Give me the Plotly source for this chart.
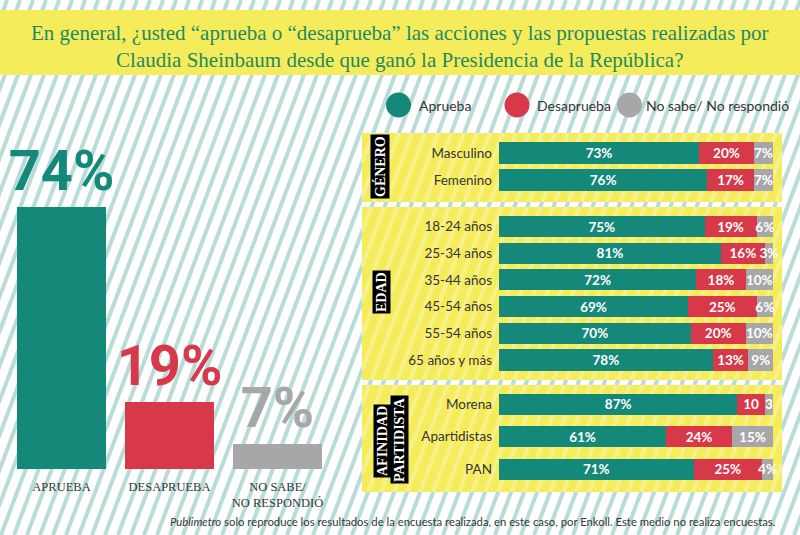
import plotly.graph_objects as go

# ---------------- data ----------------
overall_cats = ["APRUEBA", "DESAPRUEBA", "NO SABE/<br>NO RESPONDIÓ"]
overall_vals = [74, 19, 7]

series_names = ["Aprueba", "Desaprueba", "No sabe/ No respondió"]

genero_cats = ["Masculino", "Femenino"]
genero_aprueba = [73, 76]
genero_desaprueba = [20, 17]
genero_nosabe = [7, 7]

edad_cats = ["18-24 años", "25-34 años", "35-44 años", "45-54 años", "55-54 años", "65 años y más"]
edad_aprueba = [75, 81, 72, 69, 70, 78]
edad_desaprueba = [19, 16, 18, 25, 20, 13]
edad_nosabe = [6, 3, 10, 6, 10, 9]

partido_cats = ["Morena", "Apartidistas", "PAN"]
partido_aprueba = [87, 61, 71]
partido_desaprueba = [10, 24, 25]
partido_nosabe = [3, 15, 4]
partido_desaprueba_text = ["10", "24%", "25%"]
partido_nosabe_text = ["3", "15%", "4%"]

title_lines = ["En general, ¿usted “aprueba o “desaprueba” las acciones y las propuestas realizadas por",
               "Claudia Sheinbaum desde que ganó la Presidencia de la República?"]

# ---------------- style ----------------
W, H = 800, 535
TEAL = "#14897a"
RED = "#d7384a"
GRAY = "#a7a7a9"
YELLOW = "#f5ec5c"
STRIPE = "#b9dcd9"
TXT = "#363636"
GREEN_T = "#1f8a62"
colors = [TEAL, RED, GRAY]

BIG_FONT = "Roboto, sans-serif"
SERIF = "Liberation Serif, DejaVu Serif, serif"
SANS = "Lato, Open Sans, sans-serif"


def fx(px):
    return px / W


def fy(py):
    return 1 - py / H


# ---------------- background stripes & boxes ----------------
shapes = []
SLOPE = 2.66
DX = H / SLOPE
STEP = 13
starts = list(range(-220, 812, STEP))
for x0 in starts:
    shapes.append(dict(type="line", xref="paper", yref="paper",
                       x0=fx(x0), y0=fy(H), x1=fx(x0 + DX), y1=fy(0),
                       line=dict(color=STRIPE, width=4), layer="below"))

# title band
shapes.append(dict(type="rect", xref="paper", yref="paper", x0=0, x1=1,
                   y0=fy(75), y1=fy(10), fillcolor=YELLOW, line=dict(width=0), layer="below"))

boxes = [(362, 133, 782, 202), (362, 207, 782, 380), (362, 385, 782, 492)]
for (xa, ya, xb, yb) in boxes:
    shapes.append(dict(type="rect", xref="paper", yref="paper", x0=fx(xa), x1=fx(xb),
                       y0=fy(yb), y1=fy(ya), fillcolor=YELLOW, line=dict(width=0), layer="below"))
    for x0 in starts:
        p_lo = H - (xb - x0) * SLOPE
        p_hi = H - (xa - x0) * SLOPE
        lo, hi = max(ya, p_lo), min(yb, p_hi)
        if hi - lo > 1:
            xl = x0 + (H - hi) / SLOPE
            xh = x0 + (H - lo) / SLOPE
            shapes.append(dict(type="line", xref="paper", yref="paper",
                               x0=fx(xl), y0=fy(hi), x1=fx(xh), y1=fy(lo),
                               line=dict(color="rgba(255,255,255,0.28)", width=4), layer="below"))

# legend circles
legend_centers = [398.5, 517, 629.5]
for cx, c in zip(legend_centers, colors):
    shapes.append(dict(type="circle", xref="paper", yref="paper",
                       x0=fx(cx - 12.5), x1=fx(cx + 12.5), y0=fy(117.5), y1=fy(92.5),
                       fillcolor=c, line=dict(width=0)))

# ---------------- traces ----------------
fig = go.Figure()

fig.add_trace(go.Bar(
    x=overall_cats, y=overall_vals, marker=dict(color=colors, line=dict(width=0)),
    width=0.824, text=[f"{v}%" for v in overall_vals], textposition="outside",
    textfont=dict(family=BIG_FONT, size=56, color=colors, weight="bold"),
    constraintext="none", cliponaxis=False, showlegend=False,
    xaxis="x", yaxis="y", hoverinfo="skip"))

groups = [
    ("x2", "y2", genero_cats, [genero_aprueba, genero_desaprueba, genero_nosabe], None, 0.78),
    ("x3", "y3", edad_cats, [edad_aprueba, edad_desaprueba, edad_nosabe], None, 0.79),
    ("x4", "y4", partido_cats, [partido_aprueba, partido_desaprueba, partido_nosabe],
     [None, partido_desaprueba_text, partido_nosabe_text], 0.646),
]
for xa, ya, cats, vals, texts, wdt in groups:
    for i, (name, vs, c) in enumerate(zip(series_names, vals, colors)):
        if texts is not None and texts[i] is not None:
            tx = texts[i]
        else:
            tx = [f"{v}%" for v in vs]
        fig.add_trace(go.Bar(
            y=cats, x=vs, orientation="h", name=name, marker=dict(color=c, line=dict(width=0)),
            width=wdt, text=tx, textposition="inside", insidetextanchor="middle",
            textangle=0, constraintext="none", cliponaxis=False,
            textfont=dict(family=SANS, size=13.5, color="white", weight="bold"),
            showlegend=False, xaxis=xa, yaxis=ya, hoverinfo="skip"))

# ---------------- annotations ----------------
ann = []
ann.append(dict(text="<br>".join(title_lines),
                x=0.5, y=fy(46), xref="paper", yref="paper", showarrow=False,
                xanchor="center", yanchor="middle", align="center",
                font=dict(family=SERIF, size=21, color=GREEN_T)))

legend_text_x = [417, 535, 644]
for tx, name in zip(legend_text_x, series_names):
    ann.append(dict(text=name, x=fx(tx), y=fy(105), xref="paper", yref="paper",
                    xanchor="left", yanchor="middle", showarrow=False,
                    font=dict(family=SANS, size=14, color=TXT)))

group_labels = [("<b>GÉNERO</b>", 380, 167), ("<b>EDAD</b>", 381, 292),
                ("<b>AFINIDAD</b>", 382, 441), ("<b>PARTIDISTA</b>", 399, 440)]
for t, gx, gy in group_labels:
    ann.append(dict(text=t, x=fx(gx), y=fy(gy), xref="paper", yref="paper",
                    xanchor="center", yanchor="middle",
                    showarrow=False, textangle=-90, bgcolor="black", borderpad=1,
                    font=dict(family=SERIF, size=14, color="white")))

ann.append(dict(text="<i>Publimetro</i> solo reproduce los resultados de la encuesta realizada, en este caso, por Enkoll. Este medio no realiza encuestas.",
                x=fx(778), y=fy(521), xref="paper", yref="paper", xanchor="right",
                yanchor="middle", showarrow=False, font=dict(family=SANS, size=11.3, color=TXT)))

# ---------------- layout ----------------
def hx(dom):
    return dict(domain=dom, range=[0, 100], visible=False, fixedrange=True)


def hy(dom, n, anchor):
    return dict(domain=dom, range=[n - 0.5, -0.5], anchor=anchor, showgrid=False,
                zeroline=False, showline=False, ticks="", ticklabelstandoff=6,
                tickfont=dict(family=SANS, size=13.5, color=TXT), fixedrange=True)


fig.update_layout(
    width=W, height=H, autosize=False,
    margin=dict(l=0, r=0, t=0, b=0),
    paper_bgcolor="white", plot_bgcolor="rgba(0,0,0,0)",
    barmode="stack", hovermode=False, showlegend=False,
    shapes=shapes, annotations=ann,
    xaxis=dict(domain=[fx(7.5), fx(331.5)], anchor="y", showgrid=False, zeroline=False,
               showline=False, ticks="", ticklabelstandoff=8,
               tickfont=dict(family=SERIF, size=12.5, color=TXT),
               categoryorder="array", categoryarray=overall_cats, fixedrange=True),
    yaxis=dict(domain=[fy(469), fy(100)], range=[0, (469 - 100) / 3.54], visible=False,
               anchor="x", fixedrange=True),
    xaxis2=dict(hx([fx(499), fx(773)]), anchor="y2"),
    yaxis2=hy([fy(193.5), fy(139.5)], len(genero_cats), "x2"),
    xaxis3=dict(hx([fx(499), fx(773)]), anchor="y3"),
    yaxis3=hy([fy(373.35), fy(213.15)], len(edad_cats), "x3"),
    xaxis4=dict(hx([fx(499), fx(773)]), anchor="y4"),
    yaxis4=hy([fy(485.25), fy(387.75)], len(partido_cats), "x4"),
)

fig.write_html("out.html", config={"displayModeBar": False, "staticPlot": True},
               post_script="document.body.style.margin='0';")
